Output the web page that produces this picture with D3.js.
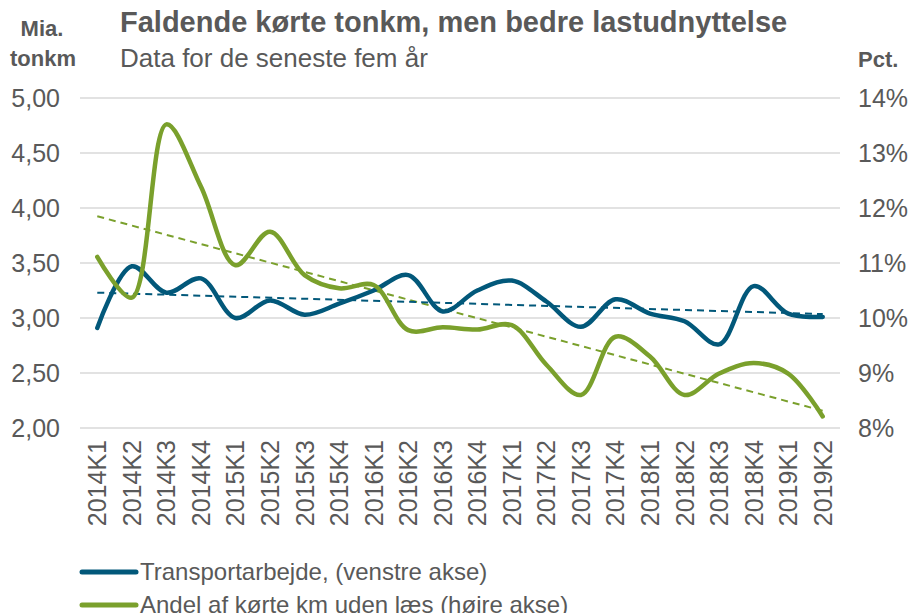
<!DOCTYPE html>
<html>
<head>
<meta charset="utf-8">
<script src="https://cdn.jsdelivr.net/npm/d3@7"></script>
<style>
  body { margin: 0; background: #fff; }
  text { font-family: "Liberation Sans", Arial, sans-serif; fill: #595959; }
</style>
</head>
<body>
<script>
// quarters on the x axis
var quarters = ["2014K1","2014K2","2014K3","2014K4","2015K1","2015K2","2015K3","2015K4",
  "2016K1","2016K2","2016K3","2016K4","2017K1","2017K2","2017K3","2017K4",
  "2018K1","2018K2","2018K3","2018K4","2019K1","2019K2"];

// Transportarbejde, mia. tonkm (left axis)
var tonkm = [2.91, 3.47, 3.23, 3.36, 3.00, 3.16, 3.03, 3.13, 3.25, 3.39, 3.06,
  3.25, 3.34, 3.15, 2.92, 3.17, 3.04, 2.97, 2.76, 3.29, 3.04, 3.01];

// Andel af kørte km uden læs, pct. (right axis)
var tomkoersel = [11.11, 10.37, 13.52, 12.39, 10.96, 11.57, 10.78, 10.54, 10.60, 9.78, 9.83,
  9.79, 9.87, 9.15, 8.60, 9.66, 9.30, 8.60, 8.99, 9.18, 8.99, 8.21];

var leftTicks = [2, 2.5, 3, 3.5, 4, 4.5, 5];
var rightTicks = [8, 9, 10, 11, 12, 13, 14];

var blue = "#02587a", green = "#7aa02c", grid = "#d9d9d9";

var width = 908, height = 613;
var margin = {top: 98, right: 68, bottom: 185, left: 80};

var svg = d3.select("body").append("svg")
  .attr("width", width)
  .attr("height", height);

var x = d3.scaleBand().domain(quarters).range([margin.left, width - margin.right]);
var yL = d3.scaleLinear().domain([2, 5]).range([height - margin.bottom, margin.top]);
var yR = d3.scaleLinear().domain([8, 14]).range([height - margin.bottom, margin.top]);
var cx = function(d, i) { return x(quarters[i]) + x.bandwidth() / 2; };

// gridlines
svg.append("g")
  .selectAll("line")
  .data(leftTicks)
  .join("line")
  .attr("x1", margin.left)
  .attr("x2", width - margin.right)
  .attr("y1", function(d) { return yL(d); })
  .attr("y2", function(d) { return yL(d); })
  .attr("stroke", grid)
  .attr("stroke-width", 1.5);

// left axis labels
var fmt = d3.format(".2f");
svg.append("g")
  .call(d3.axisLeft(yL).tickValues(leftTicks).tickSize(0).tickPadding(0)
    .tickFormat(function(d) { return fmt(d).replace(".", ","); }))
  .attr("transform", "translate(60,0)")
  .call(function(g) { g.select(".domain").remove(); })
  .selectAll("text")
  .attr("font-size", 25)
  .attr("fill", "#595959")
  .style("font-family", "Liberation Sans, Arial, sans-serif");

// right axis labels
svg.append("g")
  .call(d3.axisRight(yR).tickValues(rightTicks).tickSize(0).tickPadding(0)
    .tickFormat(function(d) { return d + "%"; }))
  .attr("transform", "translate(858,0)")
  .call(function(g) { g.select(".domain").remove(); })
  .selectAll("text")
  .attr("font-size", 25)
  .attr("fill", "#595959")
  .style("font-family", "Liberation Sans, Arial, sans-serif");

// x labels, rotated
svg.append("g")
  .selectAll("text")
  .data(quarters)
  .join("text")
  .attr("transform", function(d) {
    return "translate(" + (x(d) + x.bandwidth() / 2 + 9) + "," + 440 + ") rotate(-90)";
  })
  .attr("text-anchor", "end")
  .attr("font-size", 25)
  .text(function(d) { return d; });

// linear trend lines (least squares on the data)
function trend(vals) {
  var n = vals.length, idx = d3.range(n);
  var mx = d3.mean(idx), my = d3.mean(vals);
  var b = d3.sum(idx, function(i) { return (i - mx) * (vals[i] - my); }) /
          d3.sum(idx, function(i) { return (i - mx) * (i - mx); });
  var a = my - b * mx;
  return [a, a + b * (n - 1)];
}
var tL = trend(tonkm), tR = trend(tomkoersel);
var first = x(quarters[0]) + x.bandwidth() / 2,
    last = x(quarters[quarters.length - 1]) + x.bandwidth() / 2;

svg.append("line")
  .attr("x1", first).attr("x2", last)
  .attr("y1", yR(tR[0])).attr("y2", yR(tR[1]))
  .attr("stroke", green).attr("stroke-width", 2)
  .attr("stroke-dasharray", "7,5");

svg.append("line")
  .attr("x1", first).attr("x2", last)
  .attr("y1", yL(tL[0])).attr("y2", yL(tL[1]))
  .attr("stroke", blue).attr("stroke-width", 2)
  .attr("stroke-dasharray", "7,5");

// series lines
var lineL = d3.line().x(cx).y(function(d) { return yL(d); }).curve(d3.curveCatmullRom.alpha(0.5));
var lineR = d3.line().x(cx).y(function(d) { return yR(d); }).curve(d3.curveCatmullRom.alpha(0.5));

svg.append("path")
  .datum(tonkm)
  .attr("d", lineL)
  .attr("fill", "none")
  .attr("stroke", blue)
  .attr("stroke-width", 4.5)
  .attr("stroke-linecap", "round")
  .attr("stroke-linejoin", "round");

svg.append("path")
  .datum(tomkoersel)
  .attr("d", lineR)
  .attr("fill", "none")
  .attr("stroke", green)
  .attr("stroke-width", 4.5)
  .attr("stroke-linecap", "round")
  .attr("stroke-linejoin", "round");

// titles
svg.append("text").attr("x", 42).attr("y", 36).attr("text-anchor", "middle")
  .attr("font-size", 22).attr("font-weight", "bold").text("Mia.");
svg.append("text").attr("x", 43).attr("y", 66).attr("text-anchor", "middle")
  .attr("font-size", 22).attr("font-weight", "bold").text("tonkm");
svg.append("text").attr("x", 858).attr("y", 67)
  .attr("font-size", 22).attr("font-weight", "bold").text("Pct.");
svg.append("text").attr("x", 120).attr("y", 32)
  .attr("font-size", 29).attr("font-weight", "bold")
  .text("Faldende kørte tonkm, men bedre lastudnyttelse");
svg.append("text").attr("x", 120).attr("y", 67)
  .attr("font-size", 26)
  .text("Data for de seneste fem år");

// legend
var legend = [
  {name: "Transportarbejde, (venstre akse)", color: blue},
  {name: "Andel af kørte km uden læs (højre akse)", color: green}
];
var lg = svg.append("g").selectAll("g")
  .data(legend)
  .join("g")
  .attr("transform", function(d, i) { return "translate(80," + (572 + i * 33) + ")"; });
lg.append("line")
  .attr("x1", 2).attr("x2", 56)
  .attr("stroke", function(d) { return d.color; })
  .attr("stroke-width", 5)
  .attr("stroke-linecap", "round");
lg.append("text")
  .attr("x", 60).attr("y", 8)
  .attr("font-size", 24)
  .text(function(d) { return d.name; });
</script>
</body>
</html>
